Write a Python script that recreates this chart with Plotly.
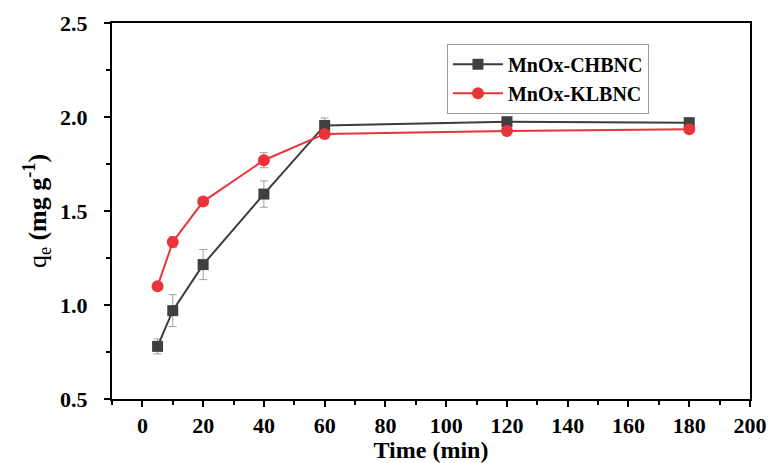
import plotly.graph_objects as go

time = [5, 10, 20, 40, 60, 120, 180]
chbnc = [0.78, 0.97, 1.215, 1.59, 1.955, 1.975, 1.97]
chbnc_err = [0.04, 0.085, 0.08, 0.07, 0.04, 0.01, 0.01]
klbnc = [1.10, 1.335, 1.55, 1.77, 1.91, 1.925, 1.935]
klbnc_err = [0.01, 0.03, 0.01, 0.04, 0.01, 0.01, 0.01]
x_ticks = [0, 20, 40, 60, 80, 100, 120, 140, 160, 180, 200]
y_ticks = [0.5, 1.0, 1.5, 2.0, 2.5]

font_family = "Liberation Serif, Times New Roman, serif"

fig = go.Figure()
fig.add_trace(go.Scatter(
    x=time, y=chbnc, name="<b>MnOx-CHBNC</b>", mode="lines+markers",
    line=dict(color="#3c3c3c", width=2),
    marker=dict(symbol="square", size=11, color="#404040"),
    error_y=dict(type="data", array=chbnc_err, color="#a0a0a0", thickness=1, width=4),
))
fig.add_trace(go.Scatter(
    x=time, y=klbnc, name="<b>MnOx-KLBNC</b>", mode="lines+markers",
    line=dict(color="#e8353b", width=2),
    marker=dict(symbol="circle", size=12, color="#e8353b"),
    error_y=dict(type="data", array=klbnc_err, color="#a0a0a0", thickness=1, width=4),
))

axis_common = dict(
    showline=True, linecolor="black", linewidth=2, mirror=True,
    ticks="outside", tickcolor="black", tickwidth=2, ticklen=6,
    showgrid=False, zeroline=False, automargin=False,
    tickfont=dict(family=font_family, size=22, color="black"),
)

fig.update_layout(
    width=772, height=463,
    margin=dict(l=112, r=22, t=23, b=64),
    paper_bgcolor="white", plot_bgcolor="white",
    font=dict(family=font_family, color="black"),
    xaxis=dict(
        range=[-10, 200], tickvals=x_ticks, ticktext=[f"<b>{v}</b>" for v in x_ticks],
        minor=dict(ticks="outside", dtick=10, tick0=0, ticklen=4, tickcolor="black", tickwidth=2),
        title=dict(text="<b>Time (min)</b>", font=dict(family=font_family, size=24, color="black"), standoff=2),
        **axis_common,
    ),
    yaxis=dict(
        range=[0.5, 2.5], tickvals=y_ticks, ticktext=[f"<b>{v:.1f}</b>" for v in y_ticks],
        minor=dict(ticks="outside", dtick=0.25, tick0=0.5, ticklen=4, tickcolor="black", tickwidth=2),
        ticklabelstandoff=12,
        title=dict(text="q<sub>e</sub> <b>(mg g<sup>-1</sup>)</b>", font=dict(family=font_family, size=26, color="black"), standoff=6),
        **axis_common,
    ),
    legend=dict(
        x=0.525, y=0.945, xanchor="left", yanchor="top",
        bordercolor="#999999", borderwidth=1, bgcolor="white",
        font=dict(family=font_family, size=20, color="black"),
        tracegroupgap=0, itemwidth=50,
    ),
    showlegend=True,
)

fig.write_html("out.html", config={"displayModeBar": False},
               post_script="document.body.style.margin='0';document.body.style.overflow='hidden';")
